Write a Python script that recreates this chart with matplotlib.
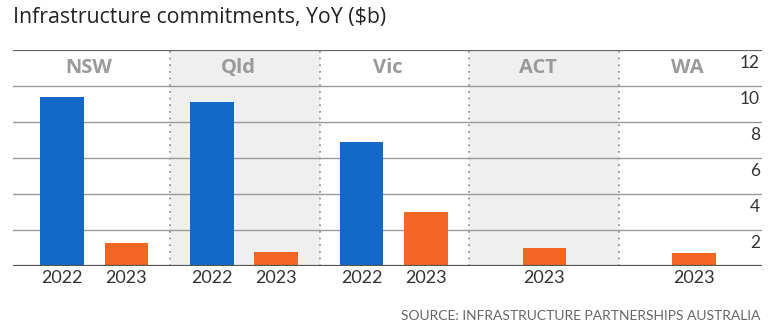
import matplotlib.pyplot as plt
import matplotlib.transforms as mtransforms

plt.rcParams['font.family'] = ['Lato', 'DejaVu Sans']

# data
regions = ['NSW', 'Qld', 'Vic', 'ACT', 'WA']
val_2022 = [9.4, 9.1, 6.9, None, None]
val_2023 = [1.3, 0.8, 3.0, 1.0, 0.75]
yticks = [2, 4, 6, 8, 10, 12]

blue = '#1469c8'
orange = '#f26522'
shade = '#efefef'

fig = plt.figure(figsize=(7.77, 3.35), dpi=100)
W, H = 777.0, 335.0
ax = fig.add_axes([13 / W, (H - 266) / H, (762 - 13) / W, (266 - 50) / H])
ax.set_xlim(-0.547, 4.453)
ax.set_ylim(0, 12)
for s in ax.spines.values():
    s.set_visible(False)
ax.set_yticks([])

# shaded panels and dotted dividers
for i in (1, 3):
    ax.axvspan(i - 0.5, i + 0.5, color=shade, zorder=0, lw=0)
for xd in (0.5, 1.5, 2.5, 3.5):
    ax.plot([xd, xd], [0, 12], ls=(0, (1, 3)), color='#888888', lw=1.2, zorder=1)

# gridlines
for v in yticks[:-1]:
    ax.axhline(v, color='#999999', lw=1.0, zorder=1)
ax.axhline(12, color='#666666', lw=1.6, zorder=3)
ax.axhline(0, color='#555555', lw=1.6, zorder=3)

# bars
w = 0.29
pos, labs = [], []
for i, r in enumerate(regions):
    if val_2022[i] is not None:
        ax.bar(i - 0.22, val_2022[i], width=w, color=blue, zorder=2)
        ax.bar(i + 0.21, val_2023[i], width=w, color=orange, zorder=2)
        pos += [i - 0.22, i + 0.21]
        labs += ['2022', '2023']
    else:
        ax.bar(i, val_2023[i], width=w, color=orange, zorder=2)
        pos += [i]
        labs += ['2023']
    ax.text(i - 0.045, 11.0, r, ha='center', va='center', fontsize=14.5,
            fontweight='bold', color='#9a9a9a', zorder=4,
            family=['Open Sans', 'DejaVu Sans'])

ax.set_xticks(pos)
ax.set_xticklabels(labs, fontsize=13, color='#333333')
ax.tick_params(axis='x', length=0, pad=3)

# y labels on right, just under each line
trans = mtransforms.blended_transform_factory(ax.transAxes, ax.transData)
for v in yticks:
    ax.text(1 - 2 / 749, v - 0.72, str(v), transform=trans, ha='right',
            va='center', fontsize=12.5, color='#333333', zorder=4)

fig.text(13 / W, 1 - 17 / H, 'Infrastructure commitments, YoY ($b)', ha='left',
         va='center', fontsize=15.3, color='#222222',
         family=['Open Sans', 'DejaVu Sans'])
fig.text(760 / W, 1 - 316 / H, 'SOURCE: INFRASTRUCTURE PARTNERSHIPS AUSTRALIA',
         ha='right', va='center', fontsize=10, color='#666666')

plt.savefig('out.png', dpi=100)
